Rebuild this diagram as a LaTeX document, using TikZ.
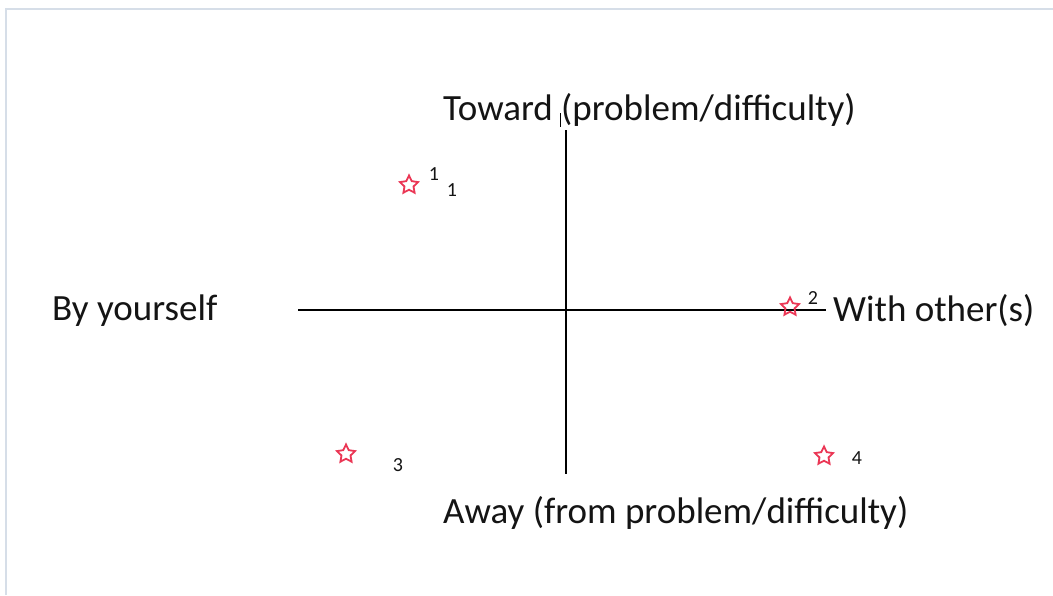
\documentclass[tikz,border=0pt]{standalone}
\usepackage{fontspec}
\setmainfont{Carlito}
\usetikzlibrary{shapes.geometric}
\definecolor{frame}{RGB}{214,222,232}
\definecolor{starred}{RGB}{235,55,85}
\definecolor{txt}{RGB}{20,20,20}
\tikzset{
  axis/.style={draw=black, line width=1.1pt},
  biglabel/.style={font=\fontsize{37}{42}\selectfont, text=txt, inner sep=0pt},
  smalllabel/.style={font=\fontsize{20}{22}\selectfont, text=txt, inner sep=0pt},
  pt/.style={star, star points=5, star point ratio=2.0, draw=starred, line width=1.8pt, minimum size=19pt, inner sep=0pt}
}
\begin{document}
\begin{tikzpicture}[x=1pt,y=-1pt]
\useasboundingbox (0,0) rectangle (1053,595);
\fill[white] (0,0) rectangle (1053,595);
\draw[frame, line width=2.5pt] (6,595) -- (6,9) -- (1053,9);
% axes
\coordinate (vt) at (566,130);
\coordinate (vb) at (566,474);
\coordinate (hl) at (298,310);
\coordinate (hr) at (826,310);
\coordinate (ct) at (560,113);
\coordinate (cb) at (560,127);
\draw[axis] (vt) -- (vb);
\draw[axis] (hl) -- (hr);
\draw[line width=0.9pt] (ct) -- (cb);
% labels
\node[biglabel, anchor=west] (top) at (443,110) {Toward (problem/difficulty)};
\node[biglabel, anchor=west] (bot) at (443,513) {Away (from problem/difficulty)};
\node[biglabel, anchor=west] (left) at (52,311) {By yourself};
\node[biglabel, anchor=west] (right) at (833,311) {With other(s)};
% stars
\node[pt] (s1) at (409,185) {};
\node[pt] (s2) at (790,307) {};
\node[pt] (s3) at (346,454) {};
\node[pt] (s4) at (824,456) {};
\node[smalllabel] (n1a) at (434,174) {1};
\node[smalllabel] (n1b) at (452,190) {1};
\node[smalllabel] (n2) at (813,298) {2};
\node[smalllabel] (n3) at (398,465) {3};
\node[smalllabel] (n4) at (857,458) {4};
\end{tikzpicture}
\end{document}
